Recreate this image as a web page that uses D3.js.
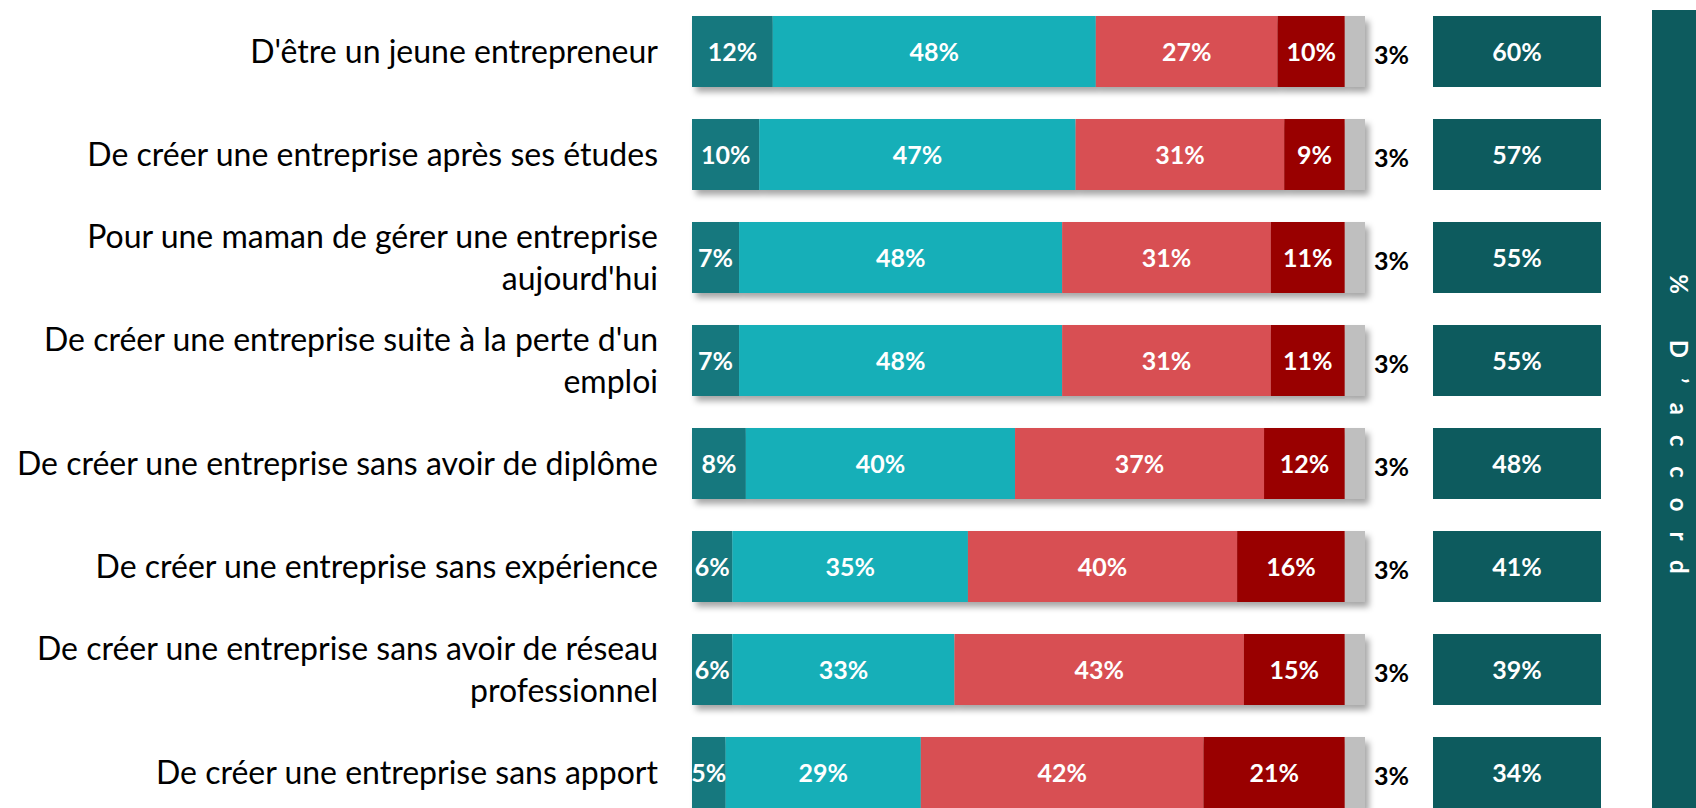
<!DOCTYPE html>
<html>
<head>
<meta charset="utf-8">
<script src="https://cdn.jsdelivr.net/npm/d3@7"></script>
<style>
  html, body { margin: 0; padding: 0; background: #fff; }
  svg { display: block; font-family: Lato, "Open Sans", sans-serif; }
</style>
</head>
<body>
<svg id="chart" width="1696" height="808"></svg>
<script>
// catégories (lignes du libellé)
const categories = [
  ["D'être un jeune entrepreneur"],
  ["De créer une entreprise après ses études"],
  ["Pour une maman de gérer une entreprise", "aujourd'hui"],
  ["De créer une entreprise suite à la perte d'un", "emploi"],
  ["De créer une entreprise sans avoir de diplôme"],
  ["De créer une entreprise sans expérience"],
  ["De créer une entreprise sans avoir de réseau", "professionnel"],
  ["De créer une entreprise sans apport"]
];
const seriesKeys = ['tout', 'plutot', 'plutotPas', 'pasDuTout', 'nsp'];
const toutAFait   = [12, 10, 7, 7, 8, 6, 6, 5];
const plutot      = [48, 47, 48, 48, 40, 35, 33, 29];
const plutotPas   = [27, 31, 31, 31, 37, 40, 43, 42];
const pasDuTout   = [10, 9, 11, 11, 12, 16, 15, 21];
const nsp         = [3, 3, 3, 3, 3, 3, 3, 3];
const accord      = [60, 57, 55, 55, 48, 41, 39, 34];
const sideTitle   = "% D\u2019accord";

const COLORS = {
  tout: '#13787e', plutot: '#14afb8', plutotPas: '#d84f52', pasDuTout: '#990000', nsp: '#bfbfbf'
};
const ACCORD_COLOR = '#0d5b5e';

const rows = categories.map((c, i) => ({
  key: i, lines: c,
  tout: toutAFait[i], plutot: plutot[i], plutotPas: plutotPas[i], pasDuTout: pasDuTout[i], nsp: nsp[i],
  accord: accord[i]
}));

const svg = d3.select('#chart');

const defs = svg.append('defs');
const f = defs.append('filter').attr('id', 'shadow').attr('x', '-5%').attr('y', '-20%').attr('width', '115%').attr('height', '160%');
f.append('feDropShadow').attr('dx', 4).attr('dy', 5).attr('stdDeviation', 3)
  .attr('flood-color', '#000').attr('flood-opacity', 0.35);

const x = d3.scaleLinear().domain([0, 100]).range([692, 1365]);
const y = d3.scaleBand().domain(rows.map(d => d.key)).range([16, 840])
  .paddingInner(32 / 103).paddingOuter(16 / 103).align(0);

const stack = d3.stack().keys(seriesKeys)(rows);
const valFont = 25;

// barres
const rowG = svg.append('g').selectAll('g.row').data(rows).join('g')
  .attr('class', 'row').attr('filter', 'url(#shadow)');
rowG.each(function(d, i) {
  const g = d3.select(this);
  stack.forEach(s => {
    const seg = s[i];
    g.append('rect')
      .attr('x', x(seg[0])).attr('y', y(d.key))
      .attr('width', x(seg[1]) - x(seg[0])).attr('height', y.bandwidth())
      .attr('fill', COLORS[s.key]);
  });
});

// étiquettes des segments
stack.forEach(s => {
  if (s.key === 'nsp') return;
  svg.append('g').selectAll('text').data(s).join('text')
    .attr('x', d => (x(d[0]) + x(d[1])) / 2)
    .attr('y', d => y(d.data.key) + y.bandwidth() / 2)
    .attr('dy', '0.36em')
    .attr('text-anchor', 'middle')
    .attr('fill', '#fff').attr('font-weight', 700).attr('font-size', valFont)
    .text(d => d.data[s.key] + '%');
});

// NSP à l'extérieur
svg.append('g').selectAll('text').data(rows).join('text')
  .attr('x', x(100) + 9)
  .attr('y', d => y(d.key) + y.bandwidth() / 2 + 3)
  .attr('dy', '0.36em')
  .attr('fill', '#000').attr('font-weight', 700).attr('font-size', valFont)
  .text(d => d.nsp + '%');

// % d'accord
const bx0 = 1433, bx1 = 1601;
svg.append('g').selectAll('rect').data(rows).join('rect')
  .attr('x', bx0).attr('y', d => y(d.key))
  .attr('width', bx1 - bx0).attr('height', y.bandwidth())
  .attr('fill', ACCORD_COLOR);
svg.append('g').selectAll('text').data(rows).join('text')
  .attr('x', (bx0 + bx1) / 2)
  .attr('y', d => y(d.key) + y.bandwidth() / 2)
  .attr('dy', '0.36em').attr('text-anchor', 'middle')
  .attr('fill', '#fff').attr('font-weight', 700).attr('font-size', valFont)
  .text(d => d.accord + '%');

// libellés
const lab = svg.append('g').selectAll('text').data(rows).join('text')
  .attr('text-anchor', 'end').attr('fill', '#000').attr('font-size', 32)
  .attr('transform', d => `translate(658,${y(d.key) + y.bandwidth() / 2})`);
lab.each(function(d) {
  const n = d.lines.length;
  d3.select(this).selectAll('tspan').data(d.lines).join('tspan')
    .attr('x', 0)
    .attr('y', (l, j) => (j - (n - 1) / 2) * 42)
    .attr('dy', '0.35em')
    .text(l => l);
});

// bandeau latéral
svg.append('rect').attr('x', 1652).attr('y', 10).attr('width', 44).attr('height', 798).attr('fill', ACCORD_COLOR);
svg.append('text')
  .attr('transform', 'translate(1678,434) rotate(90)')
  .attr('text-anchor', 'middle').attr('dy', '0.35em')
  .attr('fill', '#fff').attr('font-weight', 700).attr('font-size', 24)
  .attr('letter-spacing', 20)
  .text(sideTitle);
</script>
</body>
</html>
